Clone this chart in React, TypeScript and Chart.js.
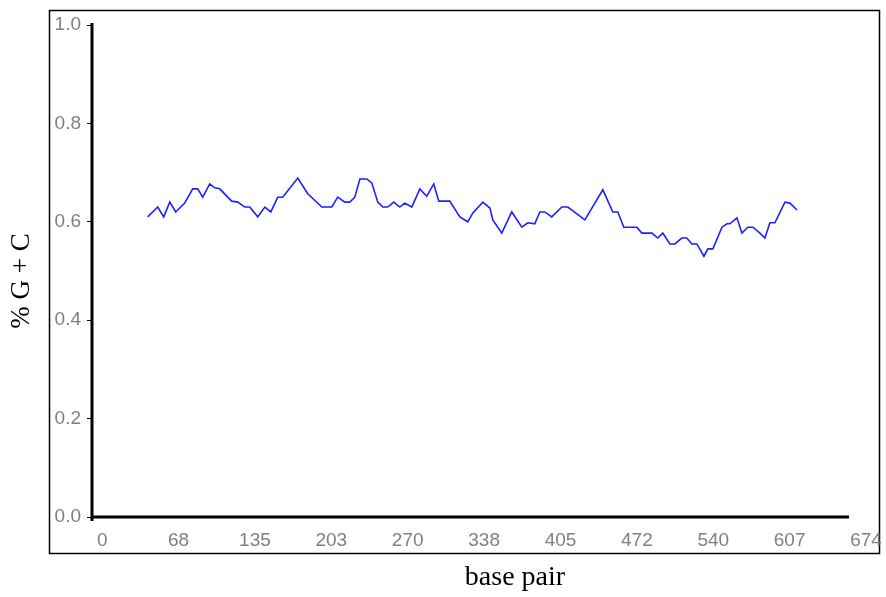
import React, { useEffect, useRef } from "react";
import { Chart, registerables } from "chart.js";

Chart.register(...registerables);

// Data: base-pair positions and % G+C (sliding window)
const basePairs = [
  40.2, 49.0, 54.3, 59.6, 64.9, 72.8, 79.9, 84.3, 88.7, 94.9,
  99.3, 103.7, 114.3, 119.6, 125.8, 130.2, 137.3, 143.5, 148.8, 154.9,
  159.3, 172.6, 181.4, 193.8, 202.6, 207.9, 214.1, 218.5, 222.9, 227.4,
  233.5, 237.9, 243.2, 247.6, 252.0, 257.3, 262.6, 267.0, 273.2, 280.3,
  286.4, 292.6, 297.0, 306.7, 315.6, 322.6, 327.1, 335.9, 342.1, 344.7,
  352.6, 361.4, 370.3, 375.6, 381.7, 386.2, 390.6, 396.7, 405.6, 410.9,
  425.9, 441.8, 450.6, 455.0, 460.3, 471.8, 476.2, 485.0, 490.3, 494.7,
  500.9, 505.3, 511.5, 515.9, 520.3, 524.7, 531.0, 534.5, 538.9, 546.9,
  551.3, 553.9, 560.1, 564.5, 569.8, 574.2, 580.4, 584.8, 589.2, 593.6,
  602.5, 606.9, 613.1,
];
const gcValues = [
  0.61, 0.63, 0.61, 0.64, 0.62, 0.638, 0.667, 0.667, 0.65, 0.677,
  0.669, 0.667, 0.642, 0.64, 0.63, 0.63, 0.61, 0.63, 0.62, 0.65,
  0.65, 0.689, 0.657, 0.63, 0.63, 0.65, 0.64, 0.64, 0.65, 0.687,
  0.687, 0.679, 0.64, 0.63, 0.63, 0.64, 0.63, 0.638, 0.63, 0.667,
  0.652, 0.677, 0.642, 0.642, 0.61, 0.6, 0.618, 0.64, 0.628, 0.604,
  0.577, 0.62, 0.589, 0.598, 0.596, 0.62, 0.62, 0.61, 0.63, 0.63,
  0.604, 0.665, 0.62, 0.62, 0.589, 0.589, 0.577, 0.577, 0.567, 0.577,
  0.555, 0.555, 0.567, 0.567, 0.555, 0.555, 0.53, 0.545, 0.545, 0.589,
  0.596, 0.596, 0.608, 0.577, 0.589, 0.589, 0.577, 0.567, 0.598, 0.598,
  0.64, 0.638, 0.624,
];
const xMin = -9;
const xMax = 674;
const xTickLabels = ["0", "68", "135", "203", "270", "338", "405", "472", "540", "607", "674"];
const yTitle = "% G + C";
const xTitle = "base pair";

const tickFont = { family: "'Liberation Sans', Arial, sans-serif", size: 19 };
const tickColor = "#808080";

const framePlugin = {
  id: "frame",
  beforeDraw(chart: any) {
    const ctx = chart.ctx;
    ctx.save();
    ctx.fillStyle = "#ffffff";
    ctx.fillRect(0, 0, chart.width, chart.height);
    ctx.strokeStyle = "#000000";
    ctx.lineWidth = 1.5;
    ctx.strokeRect(49.5, 10.5, 830, 543);
    ctx.restore();
  },
  afterDraw(chart: any) {
    const ctx = chart.ctx;
    const { left, right, top, bottom } = chart.chartArea;
    ctx.save();
    ctx.strokeStyle = "#000000";
    ctx.lineWidth = 3;
    ctx.beginPath();
    ctx.moveTo(left, top - 2);
    ctx.lineTo(left, bottom + 4);
    ctx.moveTo(left, bottom);
    ctx.lineTo(right - 17, bottom);
    ctx.stroke();
    // axis titles
    ctx.fillStyle = "#000000";
    ctx.textAlign = "center";
    ctx.textBaseline = "middle";
    ctx.font = "28px 'Liberation Serif', 'Times New Roman', serif";
    ctx.fillText(xTitle, 515, 578);
    ctx.font = "27px 'Liberation Serif', 'Times New Roman', serif";
    ctx.translate(22, 281);
    ctx.rotate(-Math.PI / 2);
    ctx.fillText(yTitle, 0, 0);
    ctx.restore();
  },
};

export default function App() {
  const ref = useRef<HTMLCanvasElement>(null);
  useEffect(() => {
    document.body.style.margin = "0";
    const chart = new Chart(ref.current!, {
      type: "line",
      data: {
        datasets: [
          {
            data: basePairs.map((x, i) => ({ x, y: gcValues[i] })),
            borderColor: "#1f1fff",
            borderWidth: 1.6,
            pointRadius: 0,
            tension: 0,
            fill: false,
          },
        ],
      },
      options: {
        responsive: false,
        animation: false,
        layout: { padding: { top: 25, right: 20, left: 0, bottom: 0 } },
        plugins: { legend: { display: false }, tooltip: { enabled: false }, title: { display: false } },
        scales: {
          x: {
            type: "linear",
            min: xMin,
            max: xMax,
            afterBuildTicks: (scale: any) => {
              scale.ticks = xTickLabels.map((_, i) => ({ value: (i * xMax) / (xTickLabels.length - 1) }));
            },
            afterFit: (scale: any) => {
              scale.height = 80;
              scale.paddingRight = 0;
              scale.paddingLeft = 0;
            },
            ticks: {
              autoSkip: false,
              maxRotation: 0,
              padding: 12,
              color: tickColor,
              font: tickFont,
              callback: (_v: any, i: number) => xTickLabels[i],
            },
            grid: { display: true, drawOnChartArea: false, drawTicks: false },
            border: { display: false },
          },
          y: {
            min: 0,
            max: 1,
            afterFit: (scale: any) => {
              scale.width = 92;
              scale.paddingTop = 0;
              scale.paddingBottom = 0;
            },
            ticks: {
              stepSize: 0.2,
              padding: 6,
              color: tickColor,
              font: tickFont,
              callback: (v: any) => Number(v).toFixed(1),
            },
            grid: { drawOnChartArea: false, drawTicks: true, tickLength: 5, color: "#000000", lineWidth: 1 },
            border: { display: false },
          },
        },
      },
      plugins: [framePlugin],
    });
    return () => chart.destroy();
  }, []);
  return (
    <div style={{ width: 886, height: 597 }}>
      <canvas ref={ref} width={886} height={597} style={{ display: "block" }} />
    </div>
  );
}
